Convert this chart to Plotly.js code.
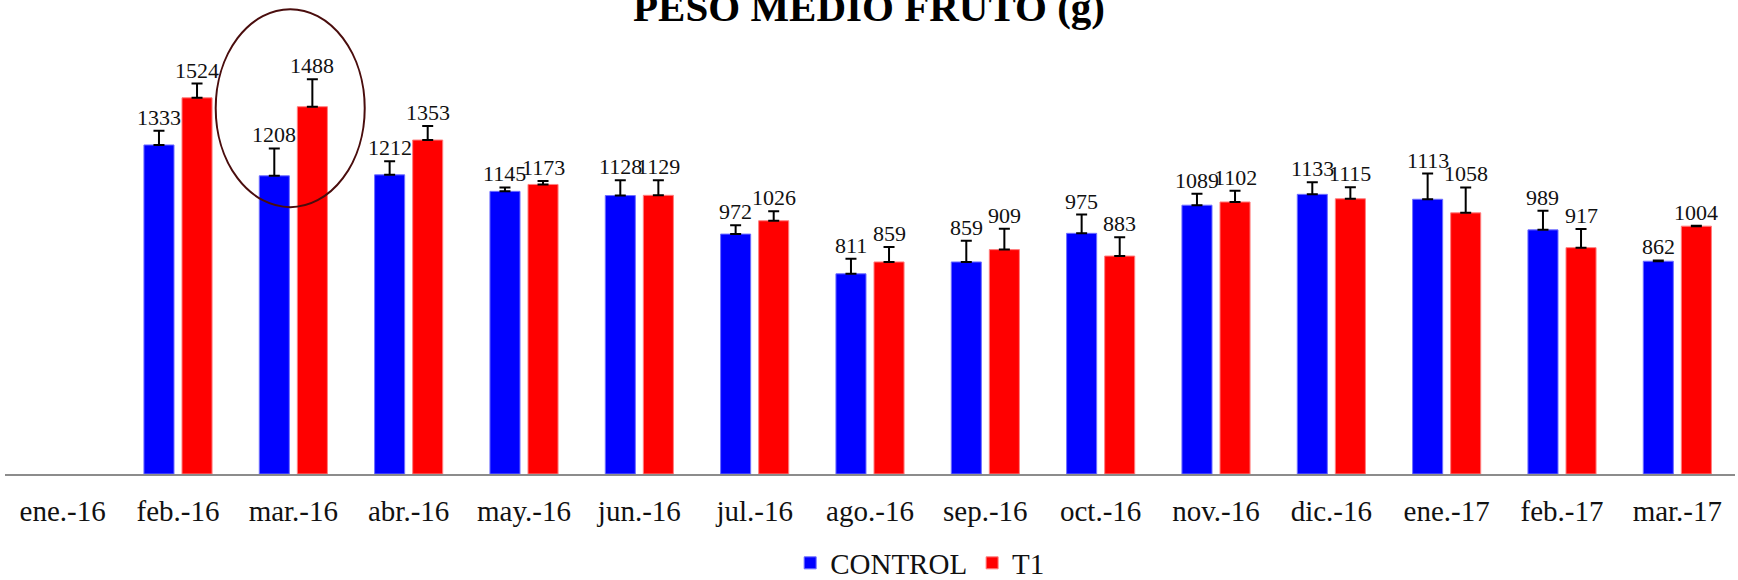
<!DOCTYPE html>
<html>
<head>
<meta charset="utf-8">
<script src="https://cdn.plot.ly/plotly-3.0.1.min.js"></script>
<style>html,body{margin:0;padding:0;background:#fff;}#chart{width:1738px;height:580px;}</style>
</head>
<body>
<div id="chart"></div>
<script>
const categories = ['ene.-16','feb.-16','mar.-16','abr.-16','may.-16','jun.-16','jul.-16','ago.-16','sep.-16','oct.-16','nov.-16','dic.-16','ene.-17','feb.-17','mar.-17'];
const controlValues = [null,1333,1208,1212,1145,1128,972,811,859,975,1089,1133,1113,989,862];
const t1Values = [null,1524,1488,1353,1173,1129,1026,859,909,883,1102,1115,1058,917,1004];
const controlErr = [null,58,111,55,16,62,36,61,86,76,46,49,104,77,3];
const t1Err = [null,58,111,57,14,61,38,61,85,76,46,47,103,76,2];
const seriesNames = ['CONTROL','T1'];

const FONT = '"Liberation Serif", "DejaVu Serif", serif';
const W = 1738, H = 580;
const margin = {l: 5, r: 3, t: 5, b: 106};
const bargap = 0.34, bargroupgap = 0.21;
const plotW = W - margin.l - margin.r;
const catW = plotW / categories.length;
const slotW = catW * (1 - bargap) / 2;

function zeros(a){ return a.map(v => v == null ? null : 0); }

const traces = [
  {type:'bar', name: seriesNames[0], x: categories, y: controlValues,
   marker:{color:'#0000FF', line:{color:'#6f6fff', width:1}},
   error_y:{type:'data', symmetric:false, array: controlErr, arrayminus: zeros(controlErr), color:'#000', thickness:2, width:5.5},
   hoverinfo:'skip'},
  {type:'bar', name: seriesNames[1], x: categories, y: t1Values,
   marker:{color:'#FF0000', line:{color:'#ff7f7f', width:1}},
   error_y:{type:'data', symmetric:false, array: t1Err, arrayminus: zeros(t1Err), color:'#000', thickness:2, width:5.5},
   hoverinfo:'skip'}
];

const annotations = [];
[[controlValues, controlErr, -1],[t1Values, t1Err, 1]].forEach(([vals, errs, side]) => {
  vals.forEach((v, i) => {
    if (v == null) return;
    annotations.push({x: categories[i], y: v + errs[i], xref:'x', yref:'y', text: String(v),
      showarrow:false, yanchor:'bottom', xanchor:'center', xshift: side * slotW / 2, yshift: -1,
      font:{family: FONT, size: 22, color:'#111'}});
  });
});

const layout = {
  width: W, height: H, margin: margin,
  paper_bgcolor:'#fff', plot_bgcolor:'#fff',
  barmode:'group', bargap: bargap, bargroupgap: bargroupgap,
  title:{text:'<b>PESO MEDIO FRUTO (g)</b>', x:0.5, xref:'container', y: 1 - 7/580, yref:'container', yanchor:'middle',
    font:{family: FONT, size:41, color:'#000'}},
  xaxis:{type:'category', showline:true, linecolor:'#8c8c8c', linewidth:2, ticks:'', showgrid:false, zeroline:false,
    tickfont:{family: FONT, size:29, color:'#111'}, ticklabelstandoff: 10, fixedrange:true},
  yaxis:{range:[0,1900], visible:false, showgrid:false, zeroline:false, fixedrange:true},
  showlegend:true,
  legend:{orientation:'h', x:0.529, xanchor:'center', xref:'paper', y: 17/580, yref:'container', yanchor:'middle',
    font:{family: FONT, size:29, color:'#111'}, itemwidth:30, traceorder:'normal'},
  shapes:[{type:'circle', xref:'x', yref:'y', x0:1.327, x1:2.619, y0:1081, y1:1883,
    line:{color:'#4a0d0d', width:2}, fillcolor:'rgba(0,0,0,0)', layer:'above'}],
  annotations: annotations
};

Plotly.newPlot('chart', traces, layout, {displayModeBar:false, staticPlot:true});
</script>
</body>
</html>
